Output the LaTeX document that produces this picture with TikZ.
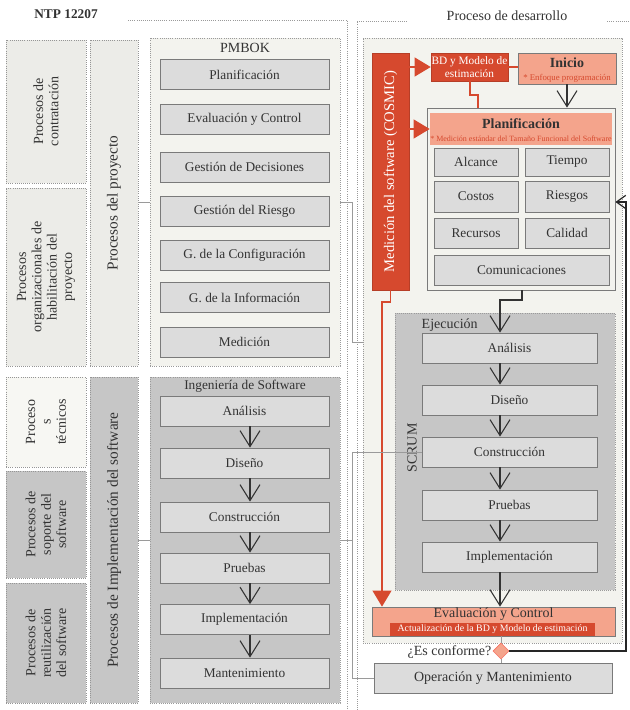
\documentclass[tikz,border=0pt]{standalone}
\usepackage{fontspec}
\setmainfont{Liberation Serif}
\usetikzlibrary{arrows.meta,shapes.geometric}
\definecolor{cred}{HTML}{D6492E}
\definecolor{csal}{HTML}{F4A48C}
\definecolor{clight}{HTML}{F3F3EE}
\definecolor{cleft}{HTML}{ECECE8}
\definecolor{cwhite}{HTML}{F7F7F3}
\definecolor{cbox}{HTML}{DCDCDC}
\definecolor{cgray}{HTML}{C6C6C6}
\definecolor{cline}{HTML}{9A9A9A}
\definecolor{cbord}{HTML}{7A7A7A}
\begin{document}
\begin{tikzpicture}[x=0.75pt,y=-0.75pt,
  every node/.append style={font=\fontsize{10}{11.5}\selectfont, text=black!80},
  wh/.style 2 args={minimum width=#1*0.75pt, minimum height=#2*0.75pt, inner sep=0pt},
  cont/.style={draw=cline, densely dotted, line width=0.6pt, fill=clight},
  contg/.style={draw=cline, densely dotted, line width=0.6pt, fill=cgray},
  bx/.style={draw=cbord, line width=0.6pt, fill=cbox, align=center},
  lbox/.style={draw=cbord!80, line width=0.6pt, densely dotted},
  rot/.style={rotate=90, align=center, font=\fontsize{10.5}{11.5}\selectfont},
  vv/.style={draw=black!80, line width=0.8pt, -{Straight Barb[length=12pt,width=15pt,line width=0.8pt]}},
  vsm/.style={draw=black!85, line width=0.9pt, -{Straight Barb[length=7pt,width=10pt,line width=0.9pt]}},
  rarr/.style={draw=cred, line width=1.4pt, -{Triangle[length=12pt,width=14pt]}},
  rline/.style={draw=cred, line width=1.4pt},
  gl/.style={draw=cline, line width=0.5pt},
  frm/.style={draw=cline, line width=0.6pt, densely dotted},
]
\useasboundingbox (0,0) rectangle (629,710);

% ---------- titles and frames ----------
\node[font=\bfseries\fontsize{10}{12}\selectfont] (ntp) at (66,14) {NTP 12207};
\node[font=\fontsize{10.5}{12}\selectfont] (pdt) at (507,16) {Proceso de desarrollo};
\coordinate (f1) at (128,20); \coordinate (f2) at (347,20); \coordinate (f3) at (347,710);
\draw[frm] (f1) -- (f2) -- (f3);
\coordinate (f4) at (357,710); \coordinate (f5) at (357,21); \coordinate (f6) at (408,21);
\draw[frm] (f4) -- (f5) -- (f6);
\coordinate (f7) at (607,21); \coordinate (f8) at (629,21);
\draw[frm] (f7) -- (f8);

% ---------- left column ----------
\node[lbox, fill=cleft, wh={80}{143}] (c1) at (46,111.5) {};
\node[rot] (c1t) at (c1) {Procesos de\\contratación};
\node[lbox, fill=cleft, wh={80}{178}] (c2) at (46,277) {};
\node[rot] (c2t) at (c2) {Procesos\\organizacionales de\\habilitación del\\proyecto};
\node[lbox, fill=cwhite, wh={80}{90}] (c3) at (46,422) {};
\node[rot] (c3t) at (c3) {Proceso\\s\\técnicos};
\node[lbox, fill=cgray, wh={80}{107}] (c4) at (46,524.5) {};
\node[rot] (c4t) at (c4) {Procesos de\\soporte del\\software};
\node[lbox, fill=cgray, wh={80}{120}] (c5) at (46,643) {};
\node[rot] (c5t) at (c5) {Procesos de\\reutilización\\del software};

\node[lbox, fill=cleft, wh={48}{326}] (d1) at (114,203) {};
\node[rot, font=\fontsize{11.5}{12}\selectfont] (d1t) at (d1) {Procesos del proyecto};
\node[lbox, fill=cgray, wh={48}{326}] (d2) at (114,540) {};
\node[rot, font=\fontsize{11.5}{12}\selectfont] (d2t) at (d2) {Procesos de Implementación del software};

% ---------- PMBOK ----------
\node[cont, wh={190}{328}] (pmbok) at (245,202) {};
\node[font=\fontsize{10.5}{12}\selectfont] (pmbokt) at (245,48) {PMBOK};
\foreach \y/\t/\n in {74.5/Planificación/p1, 119.5/Evaluación y Control/p2,
  167/Gestión de Decisiones/p3, 211.5/Gestión del Riesgo/p4,
  255/G. de la Configuración/p5, 297.5/G. de la Información/p6, 342/Medición/p7}
  \node[bx, wh={169}{30}] (\n) at (244.5,\y) {\t};

% ---------- Ingenieria de Software ----------
\node[contg, wh={190}{326}] (ing) at (245,540) {};
\node (ingt) at (245,386) {Ingeniería de Software};
\foreach \y/\t/\n in {411/Análisis/e1, 463/Diseño/e2, 517/Construcción/e3,
  568/Pruebas/e4, 619.5/Implementación/e5, 673/Mantenimiento/e6}
  \node[bx, wh={169}{30}] (\n) at (244.5,\y) {\t};
\coordinate (ax1) at (250,0);
\foreach \a/\b in {e1/e2, e2/e3, e3/e4, e4/e5, e5/e6}
  \draw[vv] (\a.south -| ax1) -- (\b.north -| ax1);

% ---------- Proceso de desarrollo ----------
\node[cont, wh={259}{605}] (dev) at (492.5,340.5) {};

\node[fill=cred, draw=cred!85!black, wh={37}{237}] (cos) at (390.5,171.5) {};
\node[rot, text=white, font=\fontsize{11}{12}\selectfont] (cost) at (cos) {Medición del software (COSMIC)};

\node[fill=cred, draw=cred!85!black, wh={77}{28}, text=white, align=center,
  font=\fontsize{8.5}{10}\selectfont] (bd) at (469.5,67) {BD y Modelo de\\estimación};

\node[fill=csal, draw=cbord, wh={98}{31}] (ini) at (567,68.5) {};
\node[font=\bfseries\fontsize{10.5}{12}\selectfont] (init) at (567,63) {Inicio};
\node[text=cred, font=\fontsize{6.6}{7}\selectfont] (inis) at (567,78) {* Enfoque programación};

\node[draw=cbord, line width=0.6pt, fill=clight, wh={188}{182}] (plan) at (521,199) {};
\node[fill=csal, wh={182}{32}] (planh) at (521,129) {};
\node[font=\bfseries\fontsize{10.5}{12}\selectfont] (plant) at (521,124) {Planificación};
\node[text=cred, font=\fontsize{6}{7}\selectfont] (plans) at (521,139) {* Medición estándar del Tamaño Funcional del Software};
\node[bx, wh={84}{28}] (alc) at (476,162) {Alcance};
\node[bx, wh={84}{28}] (tie) at (567,162) {Tiempo};
\node[bx, wh={84}{31}] (cst) at (476,196.5) {Costos};
\node[bx, wh={84}{31}] (rie) at (567,196.5) {Riesgos};
\node[bx, wh={84}{30}] (rec) at (476,233) {Recursos};
\node[bx, wh={84}{30}] (cal) at (567,233) {Calidad};
\node[bx, wh={175}{30}] (com) at (521.5,270) {Comunicaciones};

\node[contg, wh={220}{277}] (ejec) at (505,451.5) {};
\node[anchor=west, font=\fontsize{10.5}{12}\selectfont] (eject) at (417,325) {Ejecución};
\node[rot] (scrum) at (412,448) {SCRUM};
\foreach \y/\t/\n in {348/Análisis/s1, 400/Diseño/s2, 452/Construcción/s3,
  505/Pruebas/s4, 557/Implementación/s5}
  \node[bx, wh={175}{30}] (\n) at (509.5,\y) {\t};

\node[fill=csal, draw=cbord, line width=0.5pt, wh={243}{29}] (eval) at (493.5,621.5) {};
\node[font=\fontsize{10.5}{12}\selectfont] (evalt) at (493.5,614) {Evaluación y Control};
\node[fill=cred, wh={205}{13}, text=white, font=\fontsize{7.4}{8}\selectfont] (evals) at (492.5,629.5) {Actualización de la BD y Modelo de estimación};

\node[diamond, fill=csal, draw=csal!70!red, minimum size=12pt, inner sep=0pt] (dia) at (501,651) {};
\node[anchor=east, font=\fontsize{10.5}{12}\selectfont] (conf) at (496,652) {¿Es conforme?};

\node[bx, wh={238}{30}, font=\fontsize{10.5}{12}\selectfont] (oper) at (493,678) {Operación y Mantenimiento};

% ---------- black arrows (right) ----------
\draw[vv] (ini.south) -- (ini.south |- plan.north);
\coordinate (pj1) at (522,300); \coordinate (pj2) at (500,300);
\draw[vv] (plan.south -| pj1) -- (pj1) -- (pj2) -- (pj2 |- s1.north);
\coordinate (ax2) at (500,0);
\foreach \a/\b in {s1/s2, s2/s3, s3/s4, s4/s5, s5/eval}
  \draw[vv] (\a.south -| ax2) -- (\b.north -| ax2);

\draw[gl] (eval.south -| dia) -- (dia.north);
\draw[gl] (dia.south) -- (oper.north -| dia);
\coordinate (fbx) at (626,0); \coordinate (fby) at (0,202);
\draw[vsm] (dia.east) -| (fbx |- fby) -- (plan.east |- fby);

% ---------- red connectors ----------
\draw[rarr] (cos.east |- bd) -- (bd.west);
\draw[rarr] (cos.east |- planh) -- (planh.west);
\draw[rline] (bd.east) -- (bd.east -| ini.west);
\coordinate (bdj1) at (470,95); \coordinate (bdj2) at (478,95);
\draw[rline] (bd.south -| bdj1) -- (bdj1) -- (bdj2) -- (bdj2 |- plan.north);
\coordinate (rj1) at (390.5,302); \coordinate (rj2) at (382,302);
\draw[rline, -{Triangle[length=12pt,width=14pt]}] (cos.south) -- (rj1) -- (rj2) -- (rj2 |- eval.north);

% ---------- gray connectors ----------
\coordinate (g1) at (0,202);
\draw[gl] (d1.east |- g1) -- (pmbok.west |- g1);
\coordinate (g2) at (352,202); \coordinate (g3) at (352,342);
\draw[gl] (pmbok.east |- g2) -- (g2) -- (g3) -- (dev.west |- g3);
\coordinate (g4) at (0,540);
\draw[gl] (d2.east |- g4) -- (ing.west |- g4);
\coordinate (g5) at (352,540);
\draw[gl] (ing.east |- g5) -- (g5);
\coordinate (g6) at (352,452); \coordinate (g7) at (352,678);
\draw[gl] (s3.west) -- (g6) -- (g7) -- (oper.west);
\end{tikzpicture}
\end{document}
